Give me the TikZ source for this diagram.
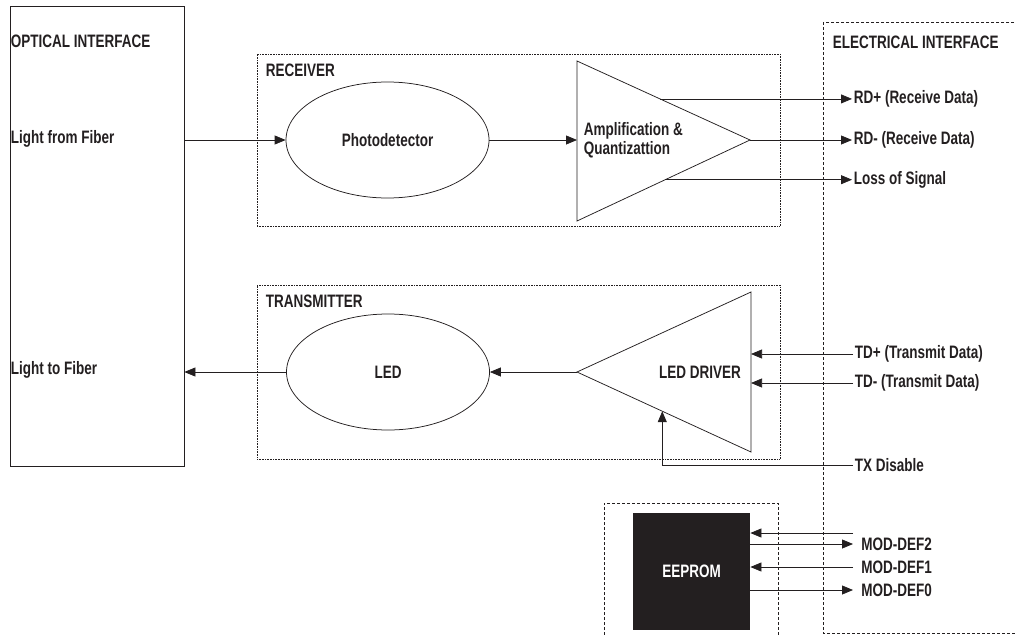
\documentclass[tikz,border=0pt]{standalone}
\usepackage{fontspec}
\setmainfont{Liberation Sans}[FakeStretch=0.75]
\usetikzlibrary{arrows.meta,positioning,shapes.geometric,calc}
\definecolor{ink}{HTML}{231F20}

\begin{document}
\begin{tikzpicture}[x=1pt,y=-1pt,>={Triangle[length=11pt,width=9pt]},
    line width=0.75pt,color=ink,font=\bfseries\fontsize{18}{19}\selectfont,
    lbl/.style={anchor=west,inner sep=1.5pt},
    pinlbl/.style={anchor=west,inner ysep=1.5pt,inner xsep=8pt},
    blob/.style={ellipse,draw,minimum width=203pt,minimum height=116pt},
    dotbox/.style={draw,densely dotted,line width=0.6pt},
    dashbox/.style={draw,dash pattern=on 3pt off 2pt,line width=0.6pt}]

  \useasboundingbox (0,0) rectangle (1016,634);

  % interface boxes
  \node[draw,minimum width=174pt,minimum height=460pt,inner sep=0] (optical) at (97,236) {};
  \draw[dashbox] (823,22) rectangle (1040,633);
  \node[dotbox,minimum width=523pt,minimum height=172pt] (rx) at (518.5,140) {};
  \node[dotbox,minimum width=523pt,minimum height=174pt] (tx) at (518.5,372) {};
  \draw[dashbox] (604,650) -- (604,503) -- (778,503) -- (778,650);

  \node[lbl] (optitle) at (9,41)  {OPTICAL INTERFACE};
  \node[lbl] (fromfib) at (9,139) {Light from Fiber};
  \node[lbl] (tofib)   at (9,370) {Light to Fiber};
  \node[lbl] (rxtitle) at (264,70)  {RECEIVER};
  \node[lbl] (txtitle) at (264,301) {TRANSMITTER};
  \node[lbl] (eltitle) at (831,42)  {ELECTRICAL INTERFACE};

  % receiver
  \node[blob] (photo) at (387.5,140) {Photodetector};
  \coordinate (ampT) at (577,61);
  \coordinate (ampB) at (577,221);
  \coordinate (ampO) at (750,140);
  \draw (ampT) -- (ampO) -- (ampB) -- cycle;
  \node[lbl,align=left] (amp) at (582,140) {Amplification \&\\Quantizattion};

  \draw[->] (optical.east |- photo) -- (photo.west);
  \draw[->] (photo.east) -- (ampT |- photo);

  \node[lbl] (rdp) at (852,99)  {RD+ (Receive Data)};
  \node[lbl] (rdm) at (852,140) {RD- (Receive Data)};
  \node[lbl] (los) at (852,180) {Loss of Signal};
  \draw[->] ($(ampT)!0.48!(ampO)$) coordinate (rdpin) -- (rdpin -| rdp.west);
  \draw[->] (ampO) -- (rdm.west);
  \draw[->] ($(ampB)!0.51!(ampO)$) coordinate (losin) -- (losin -| los.west);

  % transmitter
  \node[blob] (led) at (388,372) {LED};
  \coordinate (drvT) at (751,292);
  \coordinate (drvB) at (751,452);
  \coordinate (drvO) at (577,372);
  \draw (drvT) -- (drvO) -- (drvB) -- cycle;
  \node (drv) at (700,372) {LED DRIVER};

  \draw[->] (drvO) -- (led.east);
  \draw[->] (led.west) -- (optical.east |- led);

  \node[lbl] (tdp) at (853,354) {TD+ (Transmit Data)};
  \node[lbl] (tdm) at (853,383) {TD- (Transmit Data)};
  \node[lbl] (txd) at (853,465) {TX Disable};
  \draw[->] (tdp.west) -- (tdp.west -| drvT);
  \draw[->] (tdm.west) -- (tdm.west -| drvT);
  \draw[->] (txd.west) -| ($(drvO)!0.49!(drvB)$);

  % eeprom
  \node[fill=ink,minimum width=117pt,minimum height=117pt,text=white] (eeprom) at (691.5,571.5) {EEPROM};
  \node[pinlbl] (md2) at (853,544) {MOD-DEF2};
  \node[pinlbl] (md1) at (853,567) {MOD-DEF1};
  \node[pinlbl] (md0) at (853,590) {MOD-DEF0};
  \coordinate (md2in) at (853,533);
  \draw[->] (md2in) -- (md2in -| eeprom.east);
  \draw[->] (eeprom.east |- md2) -- (md2.west);
  \draw[->] (md1.west) -- (md1.west -| eeprom.east);
  \draw[->] (eeprom.east |- md0) -- (md0.west);
\end{tikzpicture}
\end{document}
